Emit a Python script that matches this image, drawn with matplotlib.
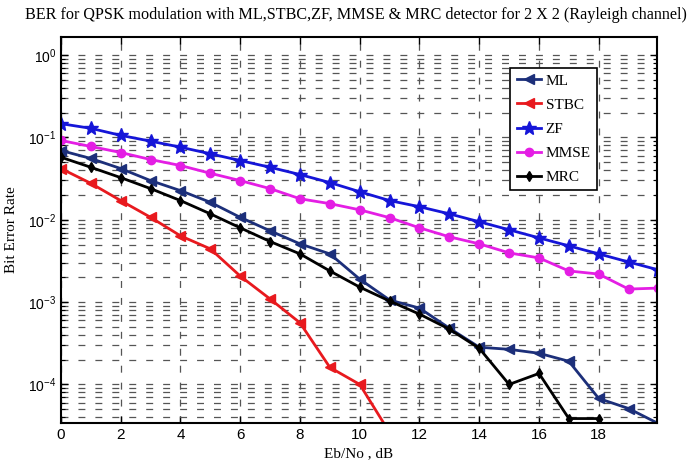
import numpy as np
import matplotlib
matplotlib.use("Agg")
import matplotlib.pyplot as plt
from matplotlib.ticker import LogLocator, FixedLocator, NullFormatter

nan = np.nan
ebno = list(range(0, 21))

ber_ml = [0.0694, 0.0555, 0.0419, 0.0299, 0.0226, 0.0163, 0.0107, 0.00734, 0.00510, 0.00385,
          0.00190, 0.00106, 0.000845, 0.000482, 0.000283, 0.000267, 0.000239, 0.000191,
          0.0000675, 0.0000510, 0.0000334]
ber_stbc = [0.0419, 0.0277, 0.0171, 0.0107, 0.00638, 0.00443, 0.00207, 0.00109, 0.000560,
            0.000161, 0.000100, 0.000026, nan, nan, nan, nan, nan, nan, nan, nan, nan]
ber_zf = [0.147, 0.129, 0.106, 0.0901, 0.0762, 0.0633, 0.0524, 0.0434, 0.0354, 0.0283,
          0.0219, 0.0171, 0.0144, 0.0118, 0.00946, 0.00756, 0.00603, 0.00482, 0.00385,
          0.00307, 0.00246]
ber_mmse = [0.0919, 0.0777, 0.0656, 0.0539, 0.0456, 0.0367, 0.0299, 0.0239, 0.0180, 0.0157,
            0.0132, 0.0106, 0.00798, 0.00621, 0.00510, 0.00396, 0.00344, 0.00239, 0.00219,
            0.00144, 0.00148]
ber_mrc = [0.0575, 0.0434, 0.0325, 0.0239, 0.0171, 0.0118, 0.00798, 0.00544, 0.00385, 0.00239,
           0.00152, 0.00103, 0.000714, 0.000469, 0.000275, 0.000100, 0.000136, 0.0000385,
           0.0000385, nan, nan]

series = [
    ("ML", ber_ml, "#1c2f7a", "<", 7),
    ("STBC", ber_stbc, "#e8191e", "<", 7),
    ("ZF", ber_zf, "#1515d8", "*", 10),
    ("MMSE", ber_mmse, "#e41ee4", "o", 6),
    ("MRC", ber_mrc, "#000000", "d", 5),
]

xticks = list(range(0, 20, 2))
title = "BER for QPSK modulation with ML,STBC,ZF, MMSE & MRC detector for 2 X 2 (Rayleigh channel)"

plt.rcParams["lines.scale_dashes"] = False
serif = ["Liberation Serif", "DejaVu Serif"]
sans = ["Liberation Sans", "DejaVu Sans"]

fig = plt.figure(figsize=(6.95, 4.66), dpi=100)
ax = fig.add_axes([61 / 695, 1 - 423 / 466, (657 - 61) / 695, (423 - 37) / 466])

for name, vals, col, mk, ms in series:
    ax.plot(ebno, vals, color=col, lw=2, marker=mk, ms=ms, mfc=col, mec=col, label=name)

ax.set_yscale("log")
ax.set_xlim(0, 19.95)
ax.set_ylim(3.4e-5, 1.66)
ax.xaxis.set_major_locator(FixedLocator(xticks))
ax.yaxis.set_major_locator(LogLocator(base=10, numticks=10))
ax.yaxis.set_minor_locator(LogLocator(base=10, subs=np.arange(2, 10), numticks=50))
ax.yaxis.set_minor_formatter(NullFormatter())

grid_kw = dict(color="#555555", lw=0.9, linestyle=(0, (5, 7.2)))
ax.grid(True, which="major", axis="both", **grid_kw)
ax.grid(True, which="minor", axis="y", **grid_kw)

ax.tick_params(which="both", direction="in", top=True, right=True)
ax.tick_params(axis="x", labelsize=11)
ax.tick_params(axis="y", labelsize=10)
ax.tick_params(which="major", length=5, width=1)
ax.tick_params(which="minor", length=3, width=0.8)
for lab in ax.get_xticklabels() + ax.get_yticklabels():
    lab.set_family(sans)
for sp in ax.spines.values():
    sp.set_linewidth(1.5)

ax.set_xlabel("Eb/No , dB", family=serif, fontsize=11, labelpad=4)
ax.set_ylabel("Bit Error Rate", family=serif, fontsize=11, labelpad=7)
fig.text(0.5 + 8 / 695, 1 - 15 / 466, title, ha="center", va="center", family=serif,
         fontsize=11.6)

leg = ax.legend(loc="upper right", bbox_to_anchor=(0.899, 0.92), borderaxespad=0,
                prop={"family": serif, "size": 11}, handlelength=1.6, handletextpad=0.3,
                labelspacing=0.68, fancybox=False, framealpha=1, edgecolor="black",
                borderpad=0.4)
leg.get_frame().set_linewidth(1.2)

fig.savefig("out.png", dpi=100)
